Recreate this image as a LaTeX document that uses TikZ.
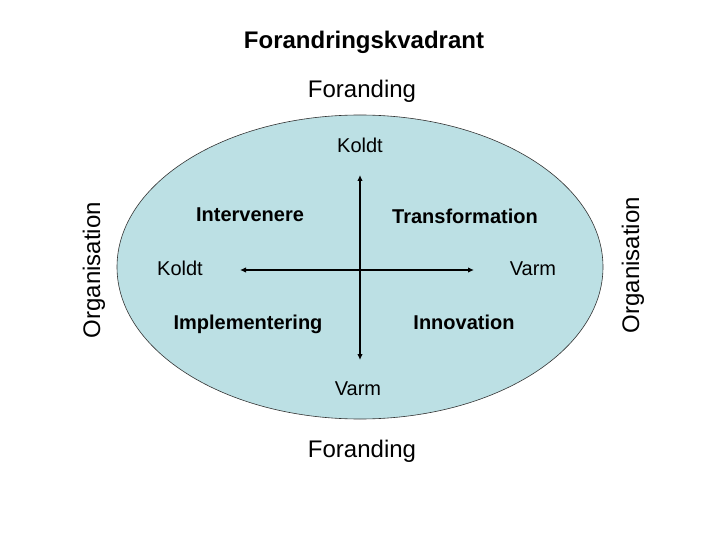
\documentclass[tikz,border=0pt]{standalone}
\usepackage{fontspec}
\setmainfont{Liberation Sans}
\usetikzlibrary{arrows.meta,shapes.geometric}
\definecolor{ellfill}{RGB}{188,224,228}
\tikzset{
  lbl/.style={anchor=base,inner sep=0pt,font=\fontsize{20}{23}\selectfont},
  blbl/.style={anchor=base,inner sep=0pt,font=\fontsize{20}{23}\selectfont\bfseries},
  big/.style={anchor=base,inner sep=0pt,font=\fontsize{24}{28}\selectfont},
  axis/.style={line width=1.5pt,{Latex[length=6pt,width=5.5pt]}-{Latex[length=6pt,width=5.5pt]}}
}
\begin{document}
\begin{tikzpicture}[x=1pt,y=-1pt]
\useasboundingbox (0,0) rectangle (720,540);
\fill[white] (0,0) rectangle (720,540);
\node[draw=black!80,line width=0.6pt,fill=ellfill,ellipse,minimum width=486pt,minimum height=304pt,inner sep=0pt] (ell) at (360,267) {};
\node[big,font=\fontsize{24}{28}\selectfont\bfseries] (title) at (364,49) {Forandringskvadrant};
\node[big] (ftop) at (362,98) {Foranding};
\node[big] (fbot) at (362,457) {Foranding};
\node[big,rotate=90] (orgl) at (100,270) {Organisation};
\node[big,rotate=90] (orgr) at (639,265) {Organisation};
\node[lbl] (ktop) at (360,153) {Koldt};
\node[lbl] (kleft) at (180,275) {Koldt};
\node[lbl] (vright) at (533,275) {Varm};
\node[lbl] (vbot) at (358,395) {Varm};
\node[blbl] (int) at (250,222) {Intervenere};
\node[blbl] (tra) at (465,223) {Transformation};
\node[blbl] (imp) at (248,329) {Implementering};
\node[blbl] (inn) at (464,329) {Innovation};
\coordinate (at) at (360,175);
\coordinate (ab) at (360,360);
\coordinate (al) at (240,270);
\coordinate (ar) at (474,270);
\draw[axis] (at) -- (ab);
\draw[axis] (al) -- (ar);
\end{tikzpicture}
\end{document}
